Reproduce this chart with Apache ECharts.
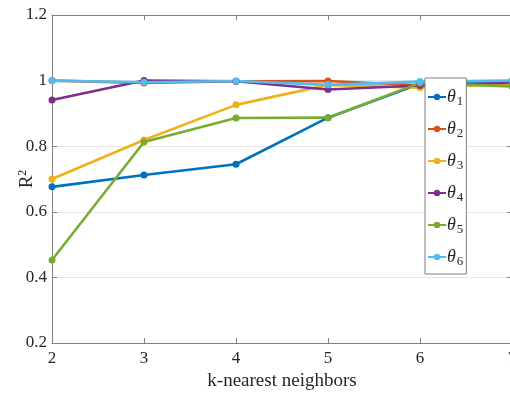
<!DOCTYPE html>
<html>
<head>
<meta charset="utf-8">
<script src="https://cdn.jsdelivr.net/npm/echarts@6/dist/echarts.min.js"></script>
<style>
  html, body { margin: 0; padding: 0; background: #fff; }
  #chart { width: 510px; height: 394px; }
</style>
</head>
<body>
<div id="chart"></div>
<script>
// k values on the x axis
const kValues = [2, 3, 4, 5, 6, 7];

// R^2 per parameter for each k
const theta1 = [0.676, 0.712, 0.745, 0.887, 0.990, 0.998];
const theta2 = [1.000, 0.993, 0.998, 0.999, 0.986, 0.990];
const theta3 = [0.700, 0.819, 0.926, 0.987, 0.978, 0.990];
const theta4 = [0.941, 1.000, 0.998, 0.973, 0.985, 0.994];
const theta5 = [0.453, 0.813, 0.886, 0.887, 0.993, 0.982];
const theta6 = [1.000, 0.995, 0.999, 0.987, 0.997, 1.000];

const seriesNames = ['θ1', 'θ2', 'θ3', 'θ4', 'θ5', 'θ6'];
const seriesValues = [theta1, theta2, theta3, theta4, theta5, theta6];
const colors = ['#0072BD', '#D95319', '#EDB120', '#7E2F8E', '#77AC30', '#4DBEEE'];

const yTicks = [0.2, 0.4, 0.6, 0.8, 1.0, 1.2];

const serif = '"Liberation Serif", "DejaVu Serif", serif';
const axisGray = '#808080';
const textColor = '#262626';

const chart = echarts.init(document.getElementById('chart'));

const series = seriesNames.map((name, i) => ({
  name: name,
  type: 'line',
  data: kValues.map((k, j) => [k, seriesValues[i][j]]),
  color: colors[i],
  lineStyle: { width: 2.6 },
  symbol: 'circle',
  symbolSize: 7,
  showSymbol: true,
  animation: false
}));

const tickStyle = { inside: true, length: 5, lineStyle: { color: axisGray } };
const lineStyle = { show: true, lineStyle: { color: axisGray, width: 1 } };

chart.setOption({
  backgroundColor: '#fff',
  animation: false,
  color: colors,
  grid: { left: 52, right: -2, top: 15, bottom: 51, containLabel: false, outerBoundsMode: 'none' },
  xAxis: [
    {
      type: 'value', min: 2, max: 7, interval: 1,
      axisLine: lineStyle, axisTick: tickStyle,
      axisLabel: { color: textColor, fontFamily: serif, fontSize: 17, margin: 7 },
      splitLine: { show: false },
      name: 'k-nearest neighbors', nameLocation: 'middle', nameGap: 29, nameMoveOverlap: false,
      nameTextStyle: { color: textColor, fontFamily: serif, fontSize: 19 }
    },
    {
      type: 'value', min: 2, max: 7, interval: 1, position: 'top',
      axisLine: lineStyle, axisTick: tickStyle,
      axisLabel: { show: false }, splitLine: { show: false }
    }
  ],
  yAxis: [
    {
      type: 'value', min: yTicks[0], max: yTicks[yTicks.length - 1], interval: 0.2,
      axisLine: lineStyle, axisTick: tickStyle,
      axisLabel: { color: textColor, fontFamily: serif, fontSize: 17, margin: 5 },
      splitLine: { show: true, lineStyle: { color: '#e6e6e6', width: 1 } },
      name: 'R{sup|2}', nameLocation: 'middle', nameGap: 14, nameRotate: 90, nameMoveOverlap: false,
      nameTextStyle: {
        color: textColor, fontFamily: serif, fontSize: 19,
        rich: { sup: { fontSize: 12, fontFamily: serif, color: textColor, verticalAlign: 'top', padding: [0, 0, 9, 0] } }
      }
    },
    {
      type: 'value', min: yTicks[0], max: yTicks[yTicks.length - 1], interval: 0.2, position: 'right',
      axisLine: lineStyle, axisTick: tickStyle,
      axisLabel: { show: false }, splitLine: { show: false }
    }
  ],
  legend: {
    orient: 'vertical',
    left: 425, top: 78,
    padding: [7, 3, 6, 2],
    itemWidth: 18, itemHeight: 8, itemGap: 9,
    backgroundColor: '#fff',
    borderColor: axisGray, borderWidth: 1,
    data: seriesNames,
    formatter: n => '{t|θ}{s|' + n.slice(1) + '}',
    textStyle: {
      padding: [0, 0, 0, -4],
      rich: {
        t: { fontFamily: serif, fontStyle: 'italic', fontSize: 18, color: textColor, lineHeight: 22 },
        s: { fontFamily: serif, fontSize: 13, color: textColor, verticalAlign: 'bottom', padding: [10, 0, 0, 1], lineHeight: 22 }
      }
    }
  },
  series: series
});
</script>
</body>
</html>
